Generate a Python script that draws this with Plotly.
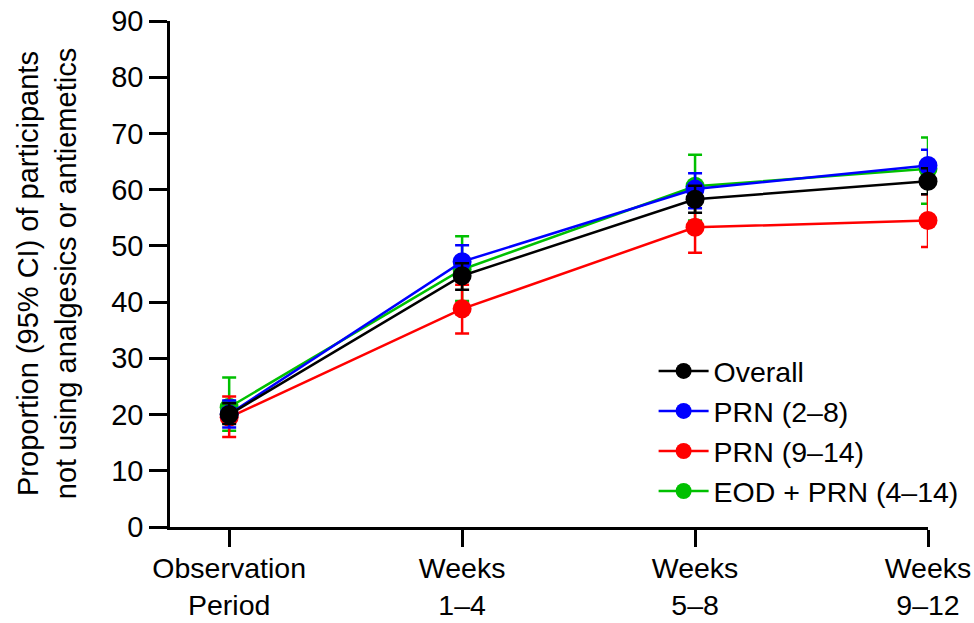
import plotly.graph_objects as go

categories = ["Observation<br>Period", "Weeks<br>1–4", "Weeks<br>5–8", "Weeks<br>9–12"]
x_pos = [0, 1, 2, 3]

overall = [20.0, 44.7, 58.3, 61.5]
overall_lo = [18.3, 42.2, 55.9, 59.2]
overall_hi = [22.0, 46.9, 60.7, 63.8]

prn_2_8 = [20.1, 47.2, 60.1, 64.3]
prn_2_8_lo = [17.7, 43.8, 56.7, 61.5]
prn_2_8_hi = [22.5, 50.1, 62.9, 67.1]

prn_9_14 = [19.5, 38.8, 53.3, 54.5]
prn_9_14_lo = [16.0, 34.4, 48.8, 49.8]
prn_9_14_hi = [23.2, 43.1, 57.8, 59.2]

eod_prn = [21.3, 45.8, 60.6, 63.7]
eod_prn_lo = [17.1, 40.2, 54.5, 57.5]
eod_prn_hi = [26.6, 51.7, 66.2, 69.3]

series = [
    ("EOD + PRN (4–14)", eod_prn, eod_prn_lo, eod_prn_hi, "#00c000", 4),
    ("PRN (9–14)", prn_9_14, prn_9_14_lo, prn_9_14_hi, "#ff0000", 3),
    ("PRN (2–8)", prn_2_8, prn_2_8_lo, prn_2_8_hi, "#0000ff", 2),
    ("Overall", overall, overall_lo, overall_hi, "#000000", 1),
]

FONT = "Liberation Sans, Arial, sans-serif"
fig = go.Figure()
for name, vals, lo, hi, color, rank in series:
    fig.add_trace(go.Scatter(
        x=x_pos, y=vals, name=name, mode="lines+markers",
        line=dict(color=color, width=2.5),
        marker=dict(color=color, size=19),
        error_y=dict(type="data", symmetric=False,
                     array=[h - v for h, v in zip(hi, vals)],
                     arrayminus=[v - l for v, l in zip(vals, lo)],
                     color=color, thickness=2.5, width=7),
        legendrank=rank, cliponaxis=False,
    ))

fig.update_layout(
    width=974, height=623,
    margin=dict(l=170, r=46, t=21, b=96, autoexpand=False),
    plot_bgcolor="white", paper_bgcolor="white",
    font=dict(family=FONT, size=29, color="black"),
    showlegend=True,
    legend=dict(x=0.638, y=0.358, xanchor="left", yanchor="top",
                font=dict(size=28.5), bgcolor="rgba(0,0,0,0)",
                itemwidth=50, tracegroupgap=0),
    xaxis=dict(range=[-0.254, 3], tickvals=x_pos, ticktext=categories,
               showline=True, linecolor="black", linewidth=2.5,
               ticks="outside", ticklen=17, tickwidth=2.5, tickcolor="black",
               showgrid=False, zeroline=False, automargin=False,
               ticklabeloverflow="allow", ticklabelstandoff=-3,
               tickfont=dict(size=28.5)),
    yaxis=dict(range=[0, 90], dtick=10, tick0=0,
               showline=True, linecolor="black", linewidth=2.5,
               ticks="outside", ticklen=18, tickwidth=2.5, tickcolor="black",
               showgrid=False, zeroline=False, automargin=False,
               ticklabeloverflow="allow"),
    annotations=[dict(
        text="Proportion (95% CI) of participants<br>not using analgesics or antiemetics",
        xref="paper", yref="paper", x=-0.162, y=0.5, xanchor="center", yanchor="middle",
        textangle=-90, showarrow=False, font=dict(size=29, family=FONT),
    )],
)

fig.write_html(
    "out.html",
    config={"displayModeBar": False},
    post_script="document.body.style.margin='0';document.body.style.overflow='hidden';",
)
